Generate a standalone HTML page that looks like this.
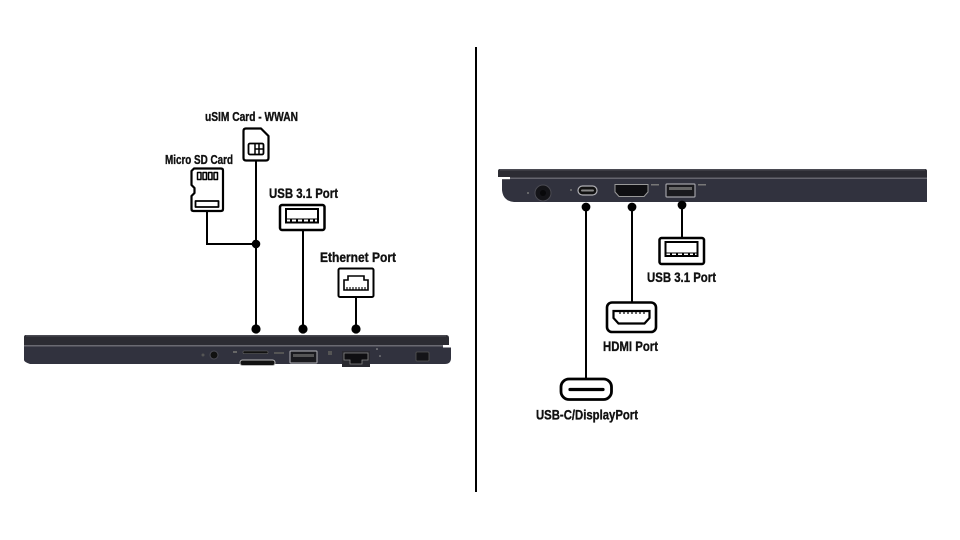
<!DOCTYPE html>
<html><head><meta charset="utf-8">
<style>
html,body{margin:0;padding:0;background:#fff;}
svg{display:block;}
text{font-family:"Liberation Sans Narrow","Liberation Sans",sans-serif;font-weight:bold;fill:#111;stroke:#111;stroke-width:0.35;}
</style></head>
<body>
<svg width="960" height="540" viewBox="0 0 960 540" xmlns="http://www.w3.org/2000/svg">
<rect width="960" height="540" fill="#fff"/>
<!-- divider -->
<rect x="475" y="47" width="2" height="445" fill="#000"/>

<!-- ============ LEFT LAPTOP ============ -->
<g>
  <path d="M26,335 H446 Q449,335 449,338 V345 H24 V337 Q24,335 26,335 Z" fill="#2c2c33"/>
  <rect x="26" y="335" width="420" height="1.5" fill="#4a4a52"/>
  <rect x="24" y="345" width="426" height="1.5" fill="#6a6a72"/>
  <path d="M24,346.5 H451 V358 Q451,364 445,364 H30 Q24,362 24,360 Z" fill="#31323e"/>
  <rect x="443" y="345" width="10" height="2.5" fill="#fff"/>
  <!-- audio -->
  <circle cx="203" cy="355" r="1.5" fill="#555"/>
  <circle cx="214" cy="355" r="4" fill="#111"/>
  <circle cx="214" cy="355" r="4" fill="none" stroke="#4b4b55" stroke-width="1"/>
  <!-- SD slot -->
  <rect x="233" y="351" width="4" height="2" fill="#666"/>
  <rect x="243" y="351" width="25" height="2.5" rx="1" fill="#111" stroke="#666" stroke-width="0.6"/>
  <!-- SIM slot -->
  <rect x="240" y="360" width="35" height="5.5" rx="2.5" fill="#111" stroke="#bbb" stroke-width="1"/>
  <!-- USB -->
  <rect x="274" y="352" width="10" height="2" fill="#555"/>
  <rect x="290" y="351" width="27" height="12" rx="1" fill="#1a1a1e" stroke="#9a9aa0" stroke-width="1.2"/>
  <rect x="293" y="354" width="21" height="3" fill="#555"/>
  <!-- ethernet -->
  <rect x="328" y="351" width="4" height="4" fill="#555"/>
  <rect x="342" y="351" width="28" height="16" fill="#2a2a30"/>
  <path d="M344,353 H368 V360 H362 V364 H350 V360 H344 Z" fill="#0f0f12" stroke="#888" stroke-width="0.8"/>
  <circle cx="377" cy="349" r="0.8" fill="#aaa"/>
  <circle cx="380" cy="356" r="0.8" fill="#999"/>
  <!-- lock -->
  <rect x="416" y="352" width="13" height="9" rx="1" fill="#141418" stroke="#555" stroke-width="0.8"/>
</g>

<!-- left connectors -->
<g stroke="#000" stroke-width="2" fill="none">
  <line x1="256" y1="161" x2="256" y2="329"/>
  <polyline points="207,211 207,244 256,244"/>
  <line x1="303" y1="230" x2="303" y2="329"/>
  <line x1="356" y1="297" x2="356" y2="329"/>
</g>
<g fill="#000">
  <circle cx="256" cy="244" r="4.3"/>
  <circle cx="256" cy="329" r="4.6"/>
  <circle cx="303" cy="329" r="4.6"/>
  <circle cx="356" cy="329" r="4.6"/>
</g>

<!-- SIM icon -->
<g stroke="#000" stroke-width="2.2" fill="#fff" stroke-linejoin="round">
  <path d="M246,128.5 H261 L268.5,136 V158 Q268.5,160.5 266,160.5 H246 Q243.5,160.5 243.5,158 V131 Q243.5,128.5 246,128.5 Z"/>
  <rect x="248.5" y="143.5" width="15" height="11" rx="1.5" stroke-width="1.8"/>
  <path d="M255,143.5 V154.5 M255,149 H263.5 M259,143.5 V154.5" stroke-width="1.5" fill="none"/>
</g>
<!-- SD icon -->
<g stroke="#000" stroke-width="2.2" fill="#fff" stroke-linejoin="round">
  <path d="M194,168.5 H221 Q223,168.5 223,170.5 V209 Q223,211 221,211 H193.5 Q191.5,211 191.5,209 V196 L194.5,193 V188 L191.5,185 V171 Z"/>
  <g fill="none" stroke-width="1.5">
    <rect x="197.5" y="172.5" width="3.5" height="7"/>
    <rect x="203" y="172.5" width="3.5" height="7"/>
    <rect x="208.5" y="172.5" width="3.5" height="7"/>
    <rect x="214" y="172.5" width="3.5" height="7"/>
    <rect x="195.5" y="201" width="23" height="6" stroke-width="1.8"/>
  </g>
</g>
<!-- USB icon left -->
<g stroke="#000" fill="#fff">
  <rect x="280" y="205" width="44.5" height="25" rx="2" stroke-width="2.5"/>
  <rect x="286" y="209" width="32" height="13.5" stroke-width="2"/>
  <path d="M291,222 V219 M297,222 V219 M303,222 V219 M309,222 V219 M314,222 V219" stroke-width="2"/>
  <line x1="286" y1="219" x2="318" y2="219" stroke-width="1"/>
</g>
<!-- Ethernet icon -->
<g stroke="#000" fill="#fff">
  <rect x="338.5" y="268.5" width="35" height="28.5" rx="1.5" stroke-width="2"/>
  <path d="M344,290 V280 H348 V276 H364 V280 H368 V290 Z" stroke-width="1.6" fill="none"/>
  <path d="M347,290 V287 M350,290 V287 M353,290 V287 M356,290 V287 M359,290 V287 M362,290 V287 M365,290 V287" stroke-width="1.1"/>
</g>

<!-- left labels -->
<text x="205" y="121" font-size="12.5" textLength="93" lengthAdjust="spacingAndGlyphs">uSIM Card - WWAN</text>
<text x="165" y="164" font-size="12.5" textLength="68" lengthAdjust="spacingAndGlyphs">Micro SD Card</text>
<text x="269" y="198" font-size="14" textLength="69" lengthAdjust="spacingAndGlyphs">USB 3.1 Port</text>
<text x="320" y="262" font-size="14" textLength="76" lengthAdjust="spacingAndGlyphs">Ethernet Port</text>

<!-- ============ RIGHT LAPTOP ============ -->
<g>
  <path d="M500,169 H925 Q927,169 927,171 V178 H498 V171 Q498,169 500,169 Z" fill="#2c2c33"/>
  <rect x="500" y="169" width="425" height="1.5" fill="#4a4a52"/>
  <rect x="498" y="177.5" width="429" height="1.5" fill="#65656d"/>
  <path d="M502,179 H927 V202 H514 Q503,201 502,190 Z" fill="#31323e"/>
  <rect x="498" y="177" width="12" height="2.2" fill="#fff"/>
  <!-- power -->
  <circle cx="528" cy="193" r="1" fill="#777"/>
  <circle cx="543" cy="193" r="8" fill="#141418" stroke="#4a4a52" stroke-width="1"/>
  <circle cx="543" cy="193" r="3" fill="#08080a"/>
  <!-- usb-c -->
  <circle cx="571" cy="190" r="1" fill="#777"/>
  <rect x="578" y="186" width="19" height="9" rx="4.5" fill="#111" stroke="#b0b0b5" stroke-width="1.2"/>
  <rect x="581" y="189.5" width="13" height="2" rx="1" fill="#888"/>
  <!-- hdmi -->
  <path d="M615,184.5 H648 V192 L644,196.5 H619 L615,192 Z" fill="#0f0f12" stroke="#999" stroke-width="1"/>
  <rect x="651" y="184" width="8" height="1.5" fill="#777"/>
  <!-- usb -->
  <rect x="666" y="184" width="29" height="13" rx="1" fill="#1a1a1e" stroke="#a0a0a6" stroke-width="1.2"/>
  <rect x="669" y="187" width="23" height="3" fill="#666"/>
  <rect x="698" y="184" width="8" height="1.5" fill="#777"/>
</g>

<!-- right connectors -->
<g stroke="#000" stroke-width="2" fill="none">
  <line x1="586" y1="207" x2="586" y2="379"/>
  <line x1="632" y1="207" x2="632" y2="302"/>
  <line x1="682" y1="205" x2="682" y2="238"/>
</g>
<g fill="#000">
  <circle cx="586" cy="207" r="4.4"/>
  <circle cx="632" cy="207" r="4.4"/>
  <circle cx="682" cy="205" r="4.4"/>
</g>

<!-- USB icon right -->
<g stroke="#000" fill="#fff">
  <rect x="659.5" y="238" width="44.5" height="26" rx="2" stroke-width="2.5"/>
  <rect x="665.5" y="242" width="32" height="14" stroke-width="2"/>
  <path d="M671,256 V253 M677,256 V253 M683,256 V253 M689,256 V253 M694,256 V253" stroke-width="2"/>
  <line x1="665.5" y1="253" x2="697.5" y2="253" stroke-width="1"/>
</g>
<!-- HDMI icon -->
<g stroke="#000" fill="#fff">
  <rect x="607" y="302.5" width="49" height="29.5" rx="5" stroke-width="2.6"/>
  <path d="M613.5,311 H649.5 V318 L644.5,323.5 H618.5 L613.5,318 Z" stroke-width="2.2" fill="none"/>
  <path d="M620,311 V314 M624,311 V314 M628,311 V314 M632,311 V314 M636,311 V314 M640,311 V314 M644,311 V314" stroke-width="1.2"/>
</g>
<!-- USB-C icon -->
<g stroke="#000" fill="#fff">
  <rect x="561" y="379" width="50.5" height="20.5" rx="8" stroke-width="2.8"/>
  <line x1="570" y1="389.5" x2="603" y2="389.5" stroke-width="3.2" stroke-linecap="round"/>
</g>

<!-- right labels -->
<text x="647" y="282" font-size="14" textLength="69" lengthAdjust="spacingAndGlyphs">USB 3.1 Port</text>
<text x="603" y="351" font-size="14" textLength="55" lengthAdjust="spacingAndGlyphs">HDMI Port</text>
<text x="536" y="419.5" font-size="14" textLength="102" lengthAdjust="spacingAndGlyphs">USB-C/DisplayPort</text>
</svg>
</body></html>
